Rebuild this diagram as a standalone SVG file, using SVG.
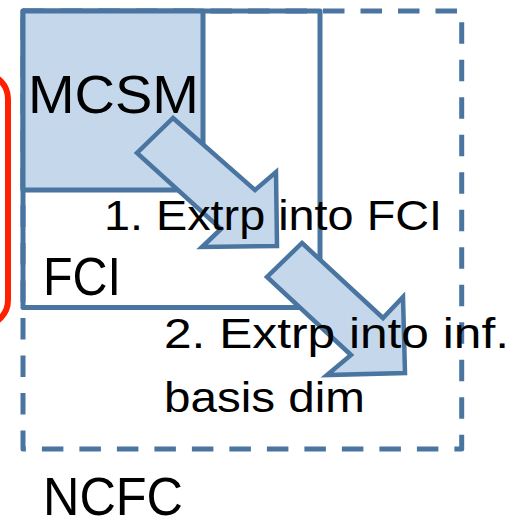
<svg xmlns="http://www.w3.org/2000/svg" width="518" height="517" viewBox="0 0 518 517">
  <style>
    .box { fill: none; stroke: #4a75a1; stroke-width: 5; stroke-linejoin: round; }
    .filled { fill: #c5d7eb; }
    .dashed { stroke-dasharray: 21.5 16; }
    .arrow { fill: #c5d7eb; stroke: #4a75a1; stroke-width: 4.5; stroke-linejoin: miter; }
    .lbl { font-family: "Liberation Sans", Arial, sans-serif; fill: #000; }
    .big { font-size: 53px; }
    .small { font-size: 43px; }
  </style>

  <!-- red bracket at the left margin -->
  <g id="bracket">
    <rect x="-40" y="74" width="48" height="251" rx="25" ry="25" fill="none" stroke="#ff2000" stroke-width="6"/>
  </g>

  <!-- NCFC: dashed outer region -->
  <g id="ncfc">
    <path class="box dashed" d="M23,11 H461.7 V449 H23 Z"/>
    <text class="lbl big" x="43" y="515" textLength="140" lengthAdjust="spacingAndGlyphs">NCFC</text>
  </g>

  <!-- FCI: solid region -->
  <g id="fci">
    <rect class="box" x="23" y="11" width="297" height="296.5"/>
    <text class="lbl big" x="43" y="295" textLength="78" lengthAdjust="spacingAndGlyphs">FCI</text>
  </g>

  <!-- MCSM: shaded inner region -->
  <g id="mcsm">
    <rect class="box filled" x="23" y="11" width="180" height="179"/>
    <text class="lbl big" x="28" y="113" font-size="55" textLength="171" lengthAdjust="spacingAndGlyphs">MCSM</text>
  </g>

  <!-- block arrows for the two extrapolation steps -->
  <g id="connectors">
    <polygon class="arrow" points="173,118 255,190 276,172 277,246 202,247 221,229 137,153"/>
    <polygon class="arrow" points="302,243 383,318 403,297 405,373 327,375 351,355 267,277"/>
  </g>

  <!-- step labels -->
  <g id="labels">
    <text class="lbl small" x="104" y="230" textLength="338" lengthAdjust="spacingAndGlyphs">1. Extrp into FCI</text>
    <text class="lbl small" x="164" y="348" textLength="345" lengthAdjust="spacingAndGlyphs">2. Extrp into inf.</text>
    <text class="lbl small" x="164" y="412" textLength="201" lengthAdjust="spacingAndGlyphs">basis dim</text>
  </g>
</svg>
